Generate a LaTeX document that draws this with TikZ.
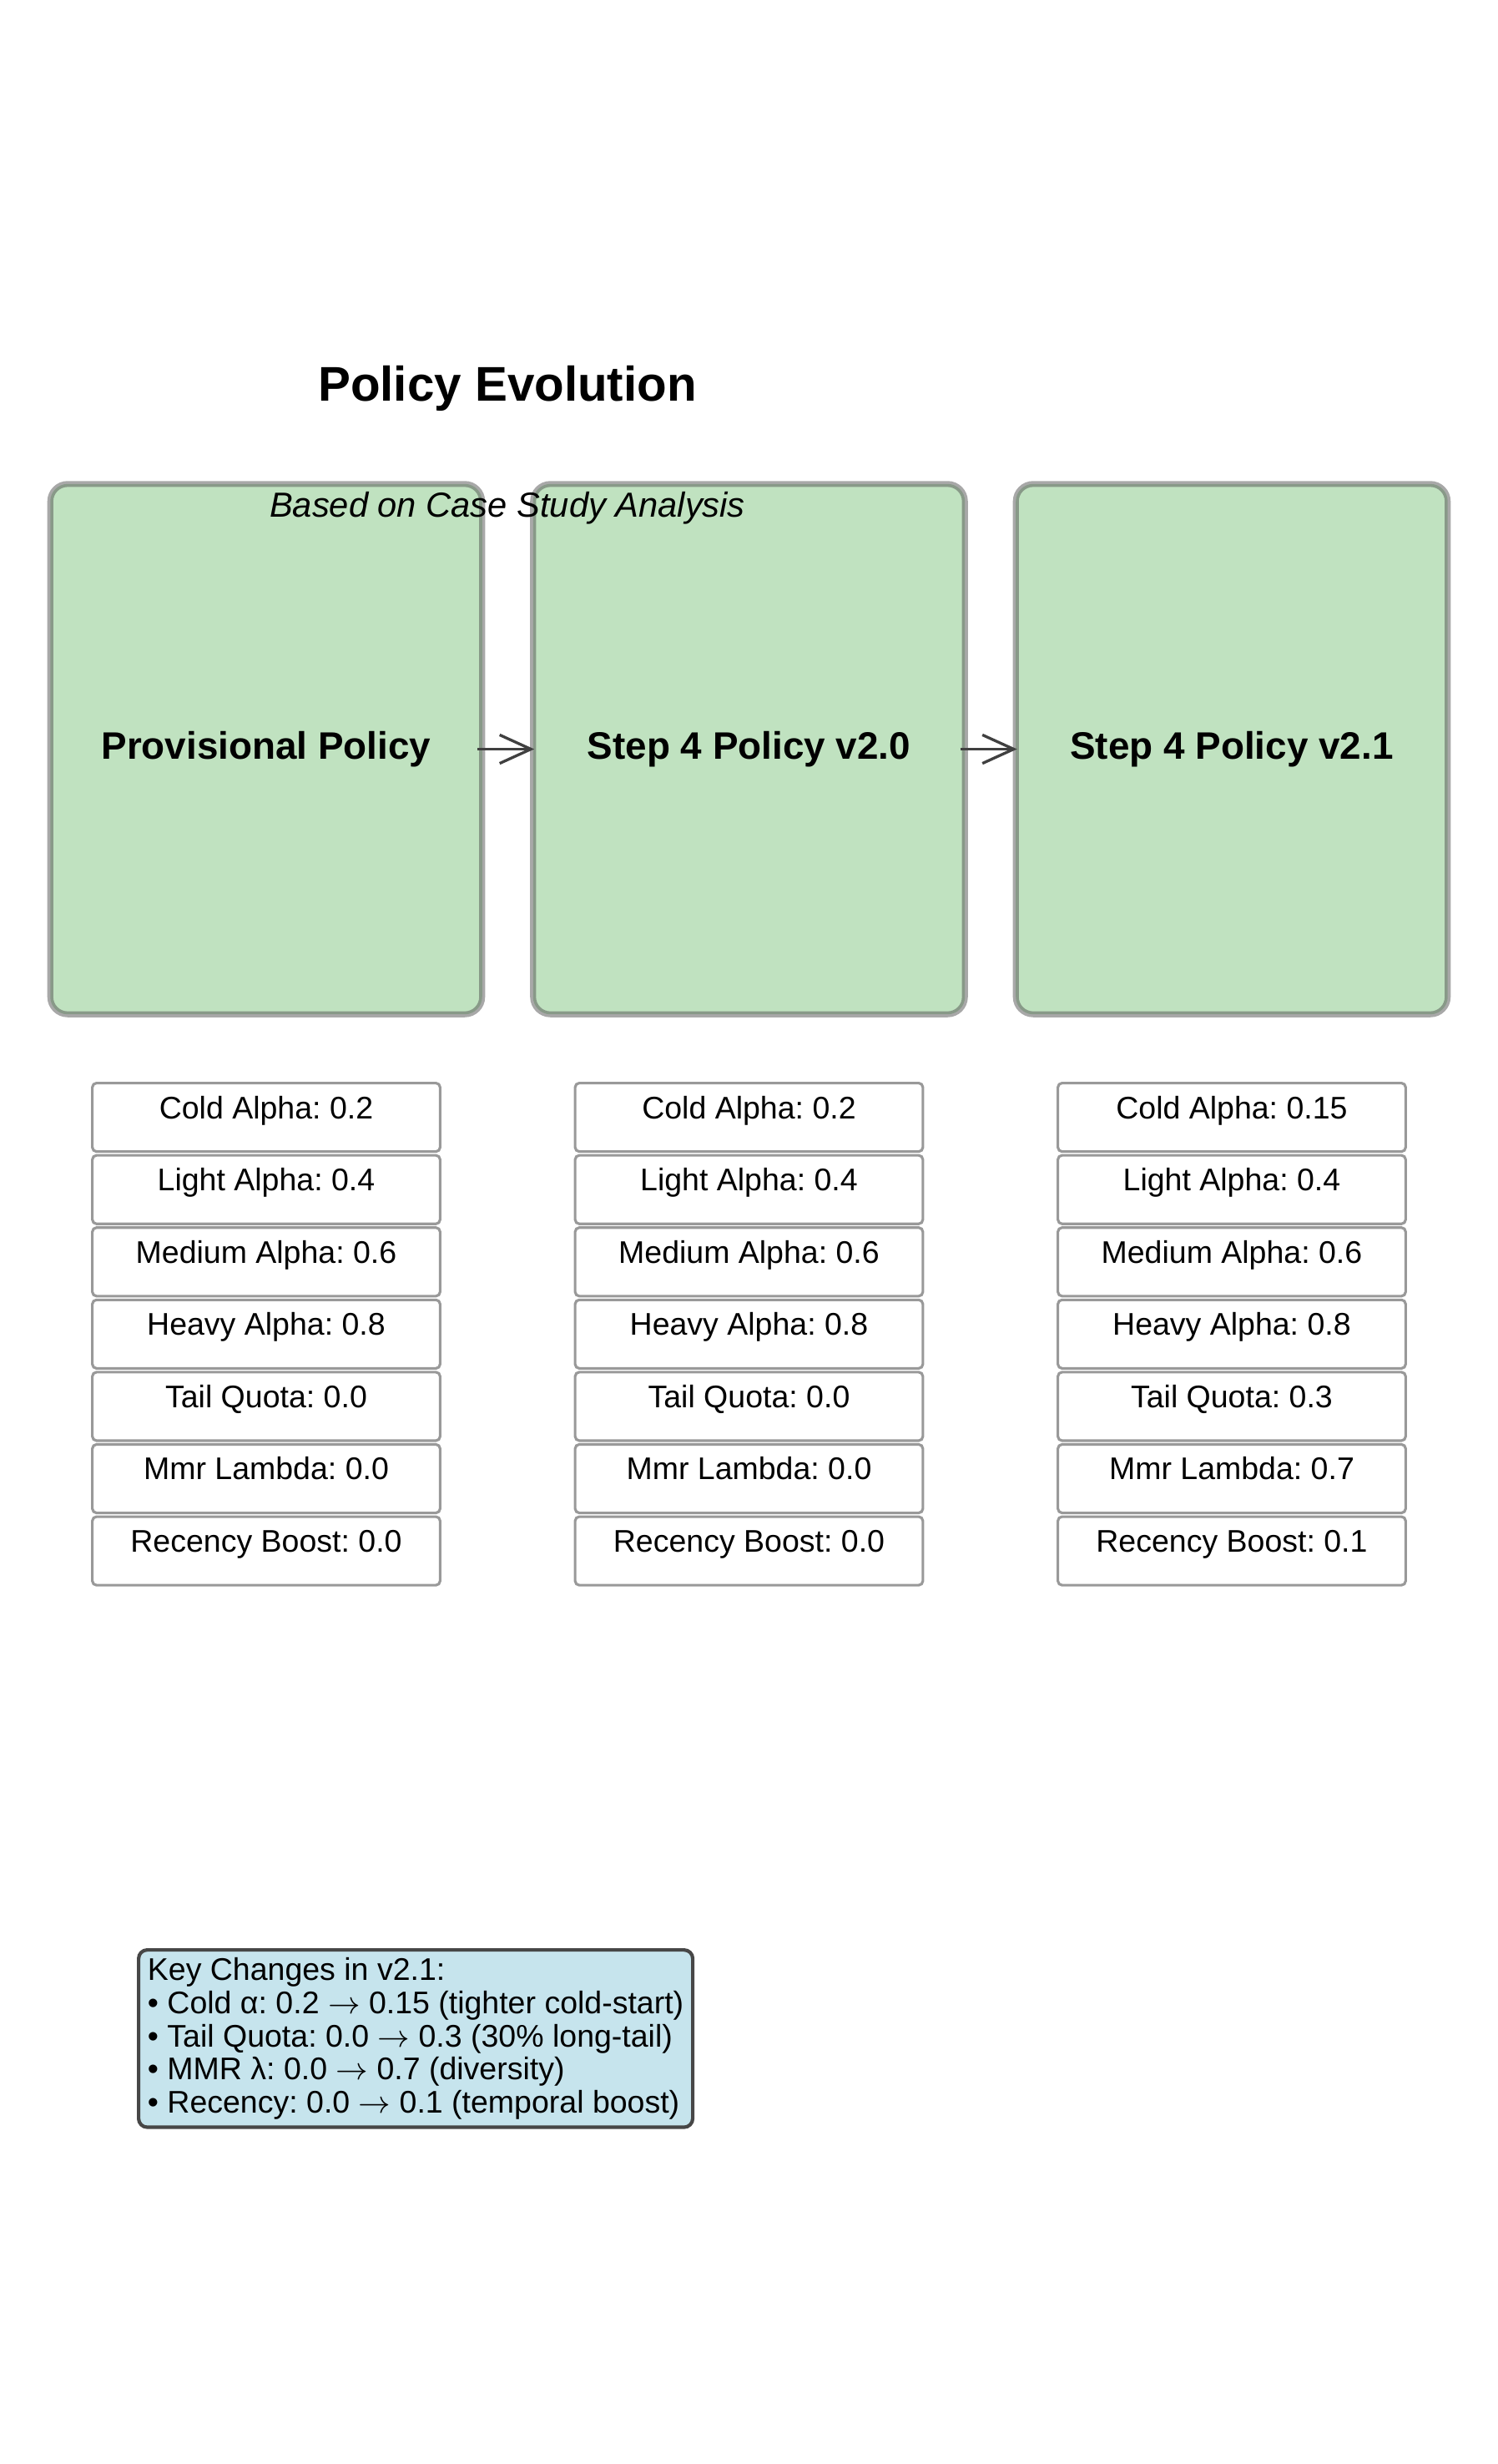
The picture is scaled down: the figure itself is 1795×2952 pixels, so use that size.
\documentclass[tikz,border=0pt]{standalone}
\usepackage{fontspec}
\setmainfont{Liberation Sans}
\usepackage{tikz}
\usetikzlibrary{positioning,arrows.meta}
\frenchspacing
\definecolor{polgreen}{RGB}{192,226,192}
\definecolor{keyblue}{RGB}{198,228,237}
\newcommand{\tto}{$\rightarrow$}
\tikzstyle{pol}=[draw=black!68, draw opacity=0.5, fill=polgreen, line width=1.7pt, rounded corners=5pt, minimum width=124.2pt, minimum height=152.5pt, font=\fontsize{11}{13}\selectfont\bfseries]
\tikzstyle{par}=[draw=black!40, fill=white, line width=0.75pt, rounded corners=1.2pt, minimum width=100pt, inner sep=0pt, text height=10.2pt, text depth=9.5pt, font=\fontsize{9}{11}\selectfont]
\tikzstyle{arr}=[-{Straight Barb[length=9pt,width=8.2pt]}, draw=black!75, line width=0.8pt]
\tikzstyle{key}=[draw=black!72, fill=keyblue, line width=1pt, rounded corners=2.5pt, inner xsep=2.6pt, inner ysep=2.3pt, align=left, anchor=north west, font=\fontsize{9}{9.5}\selectfont]

\begin{document}
\begin{tikzpicture}[x=0.24pt, y=-0.24pt]
        \useasboundingbox (0,0) rectangle (1795,2952);
        \node (title) at (608,465) {\fontsize{14}{16}\selectfont\bfseries Policy Evolution};
        \node[pol] (p0) at (319,897.5) {Provisional Policy};
        \node[pol] (p1) [right= 12.94pt of p0] {Step 4 Policy v2.0};
        \node[pol] (p2) [right= 12.94pt of p1] {Step 4 Policy v2.1};
        \draw[arr] ([xshift=-2.2pt]p0.east) -- ([xshift=1.2pt]p1.west);
        \draw[arr] ([xshift=-2.2pt]p1.east) -- ([xshift=1.2pt]p2.west);
        \node (sub) at (608,609) {\fontsize{10}{12}\selectfont\itshape Based on Case Study Analysis};
        \node[par] (a1) [below= 18.54pt of p0] {Cold Alpha: 0.2};
        \node[par] (a2) [below= 0.33pt of a1] {Light Alpha: 0.4};
        \node[par] (a3) [below= 0.33pt of a2] {Medium Alpha: 0.6};
        \node[par] (a4) [below= 0.33pt of a3] {Heavy Alpha: 0.8};
        \node[par] (a5) [below= 0.33pt of a4] {Tail Quota: 0.0};
        \node[par] (a6) [below= 0.33pt of a5] {Mmr Lambda: 0.0};
        \node[par] (a7) [below= 0.33pt of a6] {Recency Boost: 0.0};
        \node[par] (b1) [below= 18.54pt of p1] {Cold Alpha: 0.2};
        \node[par] (b2) [below= 0.33pt of b1] {Light Alpha: 0.4};
        \node[par] (b3) [below= 0.33pt of b2] {Medium Alpha: 0.6};
        \node[par] (b4) [below= 0.33pt of b3] {Heavy Alpha: 0.8};
        \node[par] (b5) [below= 0.33pt of b4] {Tail Quota: 0.0};
        \node[par] (b6) [below= 0.33pt of b5] {Mmr Lambda: 0.0};
        \node[par] (b7) [below= 0.33pt of b6] {Recency Boost: 0.0};
        \node[par] (c1) [below= 18.54pt of p2] {Cold Alpha: 0.15};
        \node[par] (c2) [below= 0.33pt of c1] {Light Alpha: 0.4};
        \node[par] (c3) [below= 0.33pt of c2] {Medium Alpha: 0.6};
        \node[par] (c4) [below= 0.33pt of c3] {Heavy Alpha: 0.8};
        \node[par] (c5) [below= 0.33pt of c4] {Tail Quota: 0.3};
        \node[par] (c6) [below= 0.33pt of c5] {Mmr Lambda: 0.7};
        \node[par] (c7) [below= 0.33pt of c6] {Recency Boost: 0.1};
        \node[key] (k) at (164,2334) {Key Changes in v2.1:\\
            • Cold α: 0.2 \tto{} 0.15 (tighter cold-start)\\
            • Tail Quota: 0.0 \tto{} 0.3 (30\% long-tail)\\
            • MMR λ: 0.0 \tto{} 0.7 (diversity)\\
            • Recency: 0.0 \tto{} 0.1 (temporal boost)};
\end{tikzpicture}
\end{document}
